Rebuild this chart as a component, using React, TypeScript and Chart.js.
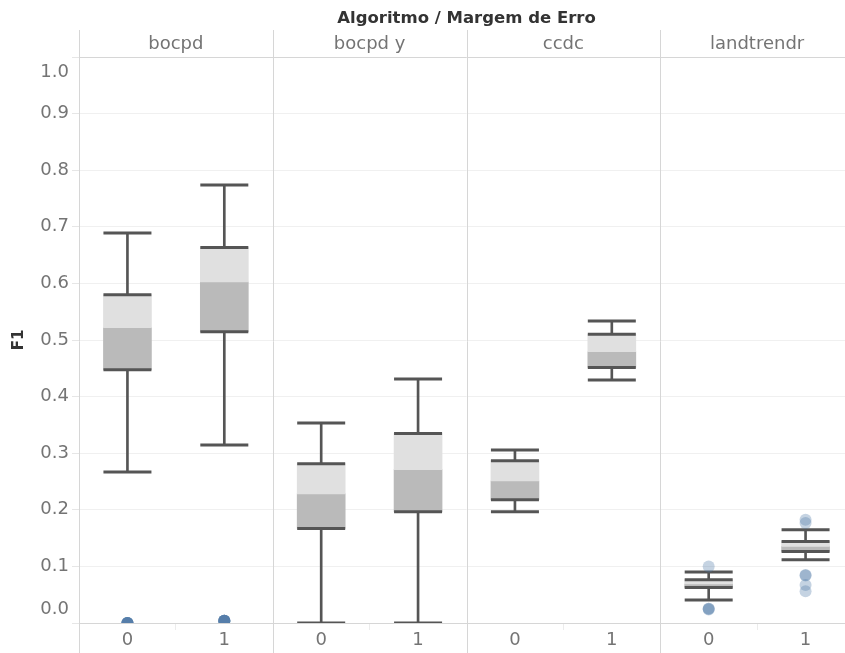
import React, { useEffect, useRef } from 'react';
import { Chart, registerables } from 'chart.js';

Chart.register(...registerables);

// Facets and categories
const algorithms = ['bocpd', 'bocpd y', 'ccdc', 'landtrendr'];
const margins = ['0', '1'];
const groupTitle = 'Algoritmo / Margem de Erro';
const valueTitle = 'F1';

// Box statistics, one entry per (algorithm, margin) in category order
const whiskerLow = [0.267, 0.3145, 0.0, 0.0, 0.1966, 0.4293, 0.0406, 0.1118];
const quartile1 = [0.4475, 0.5147, 0.167, 0.1966, 0.2178, 0.4516, 0.0629, 0.1265];
const medians = [0.522, 0.6025, 0.228, 0.271, 0.2509, 0.4793, 0.0689, 0.1353];
const quartile3 = [0.58, 0.6636, 0.2815, 0.335, 0.2868, 0.51, 0.0765, 0.1442];
const whiskerHigh = [0.689, 0.774, 0.3534, 0.431, 0.3057, 0.5336, 0.0901, 0.1648];

// Points outside the whiskers
const outliers: number[][] = [
  [0, 0, 0, 0, 0, 0, 0, 0],
  [0.004, 0.004, 0.004, 0.004, 0.004, 0.004, 0.004, 0.004],
  [],
  [],
  [],
  [],
  [0.1, 0.025, 0.025, 0.024],
  [0.1825, 0.1767, 0.085, 0.084, 0.067, 0.056],
];

const categories = algorithms.flatMap((a) => margins.map((m) => `${a}|${m}`));

const FONT = '"DejaVu Sans", "Noto Sans", sans-serif';
const HEADER_TOP = 30;
const RULE = '#d6d6d6';
const LABEL = '#747474';

const facetFrame = {
  id: 'facetFrame',
  beforeDatasetsDraw(chart: any) {
    const { ctx, chartArea: a, scales } = chart;
    const x = scales.x;
    ctx.save();
    ctx.strokeStyle = RULE;
    ctx.lineWidth = 1;
    // rule under the facet headers
    ctx.beginPath();
    ctx.moveTo(a.left, Math.round(a.top) + 0.5);
    ctx.lineTo(a.right, Math.round(a.top) + 0.5);
    ctx.stroke();
    // left rule and facet dividers
    for (let p = 0; p < algorithms.length; p++) {
      const px =
        p === 0
          ? a.left
          : (x.getPixelForValue(2 * p - 1) + x.getPixelForValue(2 * p)) / 2;
      const cx = Math.round(px) + 0.5;
      ctx.beginPath();
      ctx.moveTo(cx, HEADER_TOP);
      ctx.lineTo(cx, chart.height);
      ctx.stroke();
    }
    ctx.restore();
  },
  afterDraw(chart: any) {
    const { ctx, chartArea: a, scales } = chart;
    const x = scales.x;
    const y = scales.y;
    ctx.save();
    // group title
    ctx.fillStyle = '#333';
    ctx.font = `bold 16.5px ${FONT}`;
    ctx.textAlign = 'center';
    ctx.textBaseline = 'middle';
    ctx.fillText(groupTitle, (a.left + a.right) / 2, 19);
    // facet names
    ctx.fillStyle = LABEL;
    ctx.font = `18px ${FONT}`;
    algorithms.forEach((name, p) => {
      const cx = (x.getPixelForValue(2 * p) + x.getPixelForValue(2 * p + 1)) / 2;
      ctx.fillText(name, cx, 44);
    });
    // end labels of the value axis sit inside the plot edges
    ctx.font = `18px ${FONT}`;
    ctx.textAlign = 'right';
    ctx.fillText('1.0', a.left - 10, y.getPixelForValue(1) + 15);
    ctx.fillText('0.0', a.left - 10, y.getPixelForValue(0) - 14);
    ctx.restore();
  },
};

export default function App() {
  const canvasRef = useRef<HTMLCanvasElement>(null);

  useEffect(() => {
    const canvas = canvasRef.current;
    if (!canvas) return;

    const capPoints: { x: string; y: number }[] = [];
    categories.forEach((c, i) => {
      [whiskerLow[i], quartile1[i], quartile3[i], whiskerHigh[i]].forEach((v) =>
        capPoints.push({ x: c, y: v })
      );
    });
    const outlierPoints: { x: string; y: number }[] = [];
    categories.forEach((c, i) => {
      outliers[i].forEach((v) => outlierPoints.push({ x: c, y: v }));
    });

    const chart = new Chart(canvas, {
      type: 'bar',
      data: {
        labels: categories,
        datasets: [
          {
            type: 'bar',
            label: 'whisker',
            data: categories.map((_, i) => [whiskerLow[i], whiskerHigh[i]]),
            backgroundColor: '#555555',
            barThickness: 2,
            grouped: false,
            order: 4,
          } as any,
          {
            type: 'bar',
            label: 'upper box',
            data: categories.map((_, i) => [medians[i], quartile3[i]]),
            backgroundColor: '#e0e0e0',
            barThickness: 48,
            grouped: false,
            order: 3,
          } as any,
          {
            type: 'bar',
            label: 'lower box',
            data: categories.map((_, i) => [quartile1[i], medians[i]]),
            backgroundColor: '#bababa',
            barThickness: 48,
            grouped: false,
            order: 3,
          } as any,
          {
            type: 'line',
            label: 'caps',
            data: capPoints,
            showLine: false,
            pointStyle: 'line',
            pointRadius: 24,
            pointBorderWidth: 3,
            pointBorderColor: '#555555',
            clip: 0,
            order: 2,
          } as any,
          {
            type: 'line',
            label: 'outliers',
            data: outlierPoints,
            showLine: false,
            pointStyle: 'circle',
            pointRadius: 6,
            pointBorderWidth: 0,
            pointBackgroundColor: 'rgba(78,121,167,0.33)',
            clip: 0,
            order: 1,
          } as any,
        ],
      },
      options: {
        responsive: false,
        devicePixelRatio: 1,
        animation: false,
        events: [],
        layout: { autoPadding: false, padding: { top: 57, right: 6, bottom: 0, left: 0 } },
        plugins: {
          legend: { display: false },
          tooltip: { enabled: false },
        },
        scales: {
          x: {
            type: 'category',
            offset: true,
            grid: {
              display: true,
              offset: true,
              drawOnChartArea: false,
              drawTicks: true,
              tickLength: 7,
              color: 'transparent',
              tickColor: (c: any) => (c.index % 2 === 1 ? '#ececec' : 'transparent'),
            },
            border: { display: true, color: RULE },
            ticks: {
              autoSkip: false,
              maxRotation: 0,
              padding: 0,
              color: LABEL,
              font: { family: FONT, size: 18 },
              callback: (_v: any, i: number) => margins[i % margins.length],
            },
            afterFit: (s: any) => {
              s.height = 30;
            },
          },
          y: {
            type: 'linear',
            min: 0,
            max: 1,
            border: { display: false },
            grid: {
              color: '#f0f0f0',
              drawTicks: true,
              tickLength: 7,
              tickColor: '#e6e6e6',
            },
            ticks: {
              stepSize: 0.1,
              padding: 3,
              color: LABEL,
              font: { family: FONT, size: 18 },
              callback: (v: any) => {
                const n = Number(v);
                if (n < 0.05 || n > 0.95) return '';
                return n.toFixed(1);
              },
            },
            title: {
              display: true,
              text: valueTitle,
              color: '#333',
              font: { family: FONT, size: 15, weight: 'bold' },
              padding: { top: 10, bottom: 0 },
            },
            afterFit: (s: any) => {
              s.width = 79;
            },
          },
        },
      } as any,
      plugins: [facetFrame],
    });

    return () => chart.destroy();
  }, []);

  return (
    <div
      style={{
        position: 'fixed',
        left: 0,
        top: 0,
        width: 845,
        height: 653,
        overflow: 'hidden',
        background: '#ffffff',
      }}
    >
      <canvas
        ref={canvasRef}
        width={860}
        height={653}
        style={{ display: 'block', width: 860, height: 653 }}
      />
    </div>
  );
}
